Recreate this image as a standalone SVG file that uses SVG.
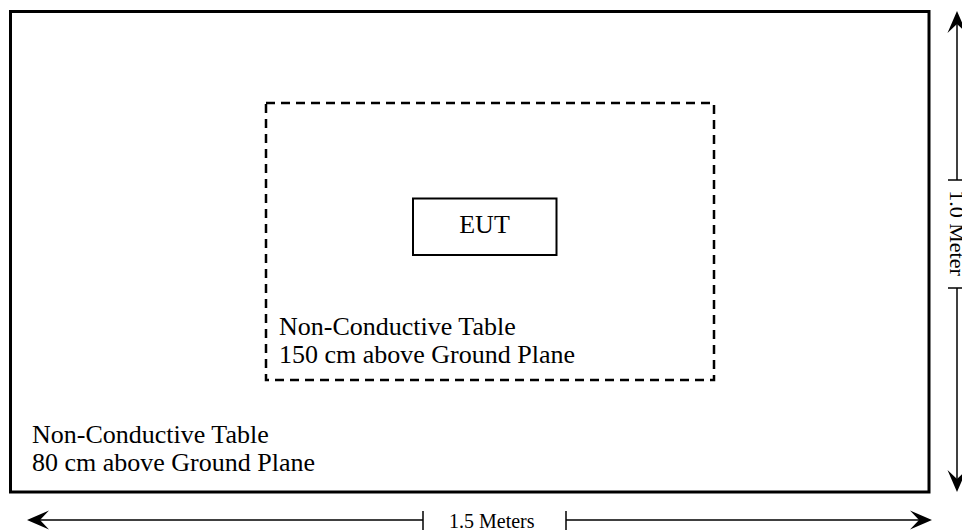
<svg xmlns="http://www.w3.org/2000/svg" width="962" height="532" viewBox="0 0 962 532">
<style>
.lbl{font-family:"Liberation Serif","Times New Roman",serif;fill:#000}
.dim{stroke:#000;stroke-width:1.5;fill:none}
</style>
<defs>
<marker id="ah" markerUnits="userSpaceOnUse" markerWidth="24" markerHeight="22" viewBox="0 0 24 22" refX="14" refY="11" orient="auto-start-reverse">
<path d="M22,11 L0,1.5 L9,11 L0,20.5 Z" fill="#000"/>
</marker>
</defs>
<rect width="962" height="532" fill="#fff"/>
<g id="ground-table">
<rect x="10.5" y="11.5" width="918.5" height="480.5" fill="none" stroke="#000" stroke-width="3"/>
<text class="lbl" font-size="26" x="32" y="443">Non-Conductive Table</text>
<text class="lbl" font-size="26" x="32" y="471">80 cm above Ground Plane</text>
</g>
<g id="upper-table">
<rect x="266" y="103" width="448" height="277" fill="none" stroke="#000" stroke-width="2.5" stroke-dasharray="9 6"/>
<text class="lbl" font-size="26" x="279" y="335">Non-Conductive Table</text>
<text class="lbl" font-size="26" x="279" y="363">150 cm above Ground Plane</text>
</g>
<g id="eut">
<rect x="413" y="198.5" width="143.5" height="56.5" fill="none" stroke="#000" stroke-width="2"/>
<text class="lbl" font-size="26" x="484.5" y="233" text-anchor="middle">EUT</text>
</g>
<g id="connectors">
<line class="dim" x1="35" y1="520" x2="423" y2="520" marker-start="url(#ah)"/>
<line class="dim" x1="423" y1="511" x2="423" y2="530"/>
<line class="dim" x1="566" y1="520" x2="924" y2="520" marker-end="url(#ah)"/>
<line class="dim" x1="566" y1="511" x2="566" y2="530"/>
<line class="dim" x1="957" y1="19" x2="957" y2="180" marker-start="url(#ah)"/>
<line class="dim" x1="948" y1="180" x2="966" y2="180"/>
<line class="dim" x1="957" y1="288" x2="957" y2="484" marker-end="url(#ah)"/>
<line class="dim" x1="948" y1="288" x2="966" y2="288"/>
</g>
<g id="dimension-labels">
<text class="lbl" font-size="20" x="449" y="528">1.5 Meters</text>
<text class="lbl" font-size="22" text-anchor="middle" transform="translate(950,233) rotate(90)">1.0 Meter</text>
</g>
</svg>
